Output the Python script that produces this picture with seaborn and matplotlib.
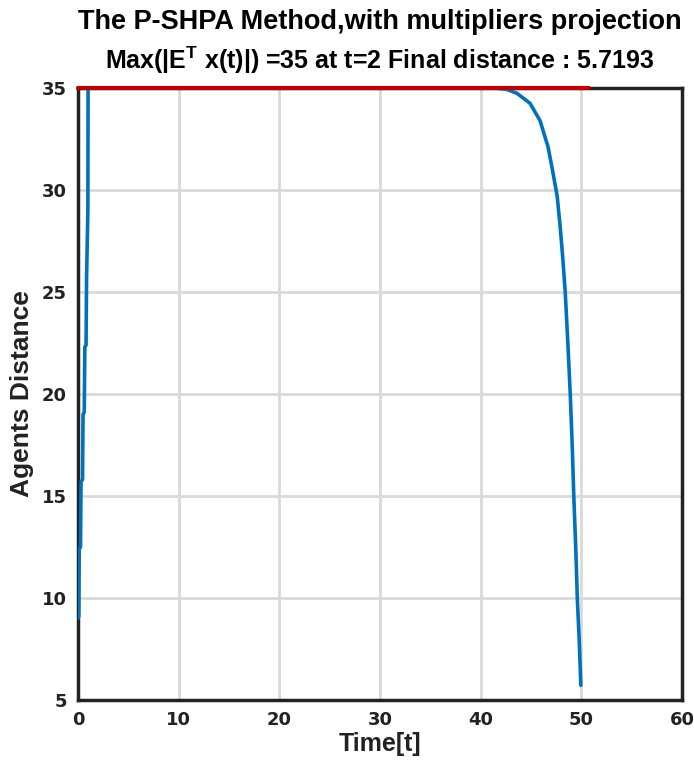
import matplotlib
matplotlib.use("Agg")
import matplotlib.pyplot as plt
import seaborn as sns
import pandas as pd

# ---- data ----
time_t = [0.0, 0.08, 0.12, 0.25, 0.3, 0.45, 0.5, 0.62, 0.68, 0.8, 0.85, 0.98, 1.0,
          41.4, 42.6, 43.6, 44.9, 45.9, 46.7, 47.2, 47.6, 47.9, 48.15, 48.4, 48.65,
          48.9, 49.1, 49.25, 49.45, 49.6, 49.8, 49.95]
distance = [9.0, 9.1, 12.4, 12.5, 15.7, 15.8, 19.0, 19.1, 22.3, 22.4, 25.7, 29.0, 35.0,
            35.0, 34.93, 34.74, 34.25, 33.4, 32.1, 30.8, 29.7, 28.2, 26.7, 25.0, 22.6,
            20.0, 17.4, 15.0, 12.4, 10.0, 7.8, 5.72]
bound_t = [0.0, 50.8]
bound_v = [35.0, 35.0]
x_ticks = [0, 10, 20, 30, 40, 50, 60]
y_ticks = [5, 10, 15, 20, 25, 30, 35]

sns.set_style("white")
title_font = "Liberation Sans"
plt.rcParams['font.family'] = ['DejaVu Sans']
plt.rcParams['mathtext.fontset'] = 'custom'
plt.rcParams['mathtext.rm'] = title_font
plt.rcParams['mathtext.bf'] = title_font + ':bold'

fig = plt.figure(figsize=(6.94, 7.75), dpi=100)
ax = fig.add_axes([0.1124, 0.0968, 0.8703, 0.7897])

df = pd.DataFrame({"t": time_t, "d": distance})
dfr = pd.DataFrame({"t": bound_t, "d": bound_v})
sns.lineplot(data=df, x="t", y="d", ax=ax, color="#0072BD", linewidth=2.6,
             estimator=None, sort=False, zorder=3)
sns.lineplot(data=dfr, x="t", y="d", ax=ax, color="#C00000", linewidth=3,
             estimator=None, sort=False, zorder=4, clip_on=False)

ax.set_xlim(0, 60)
ax.set_ylim(5, 35)
ax.set_xticks(x_ticks)
ax.set_yticks(y_ticks)
ax.grid(True, color="#d9d9d9", linewidth=2)
ax.set_axisbelow(True)
for s in ax.spines.values():
    s.set_color("#222222")
    s.set_linewidth(2.5)
ax.tick_params(direction="in", length=4, width=2, color="#222222",
               labelsize=13, pad=8, labelcolor="#222222")
for lbl in ax.get_xticklabels() + ax.get_yticklabels():
    lbl.set_fontweight("bold")

ax.set_xlabel("Time[t]", fontsize=18, fontweight="bold", family=[title_font, 'DejaVu Sans'],
              color="#222222", labelpad=2)
ax.set_ylabel("Agents Distance", fontsize=19, fontweight="bold", family=[title_font, 'DejaVu Sans'],
              color="#222222", labelpad=6)

fig.text(0.547, 0.971, "The P-SHPA Method,with multipliers projection", ha="center", va="center",
         fontsize=19.5, fontweight="bold", family=[title_font, 'DejaVu Sans'], color="black")
fig.text(0.547, 0.922, r"Max(|E$^{\mathbf{T}}$ x(t)|) =35 at t=2 Final distance : 5.7193",
         ha="center", va="center", fontsize=18, fontweight="bold", family=[title_font, 'DejaVu Sans'],
         color="black")

fig.savefig("out.png", dpi=100)
